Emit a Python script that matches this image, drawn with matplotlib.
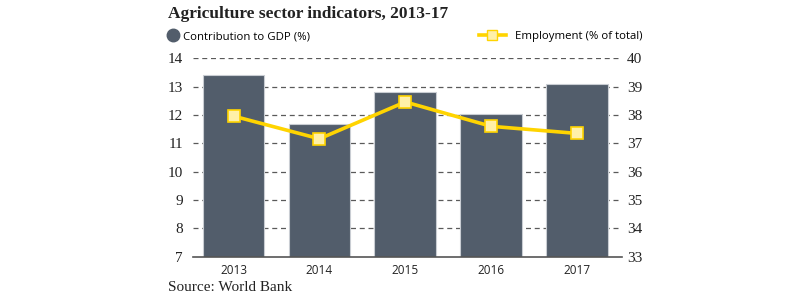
import matplotlib
matplotlib.use("Agg")
import matplotlib.pyplot as plt
from matplotlib.lines import Line2D

years = ["2013", "2014", "2015", "2016", "2017"]
gdp_share = [13.4, 11.67, 12.8, 12.02, 13.08]
employment = [37.96, 37.16, 38.46, 37.6, 37.35]

bar_color = "#525d6b"
line_color = "#ffd400"
marker_face = "#fff0a8"
serif = "Liberation Serif"
sans = "Open Sans"

fig = plt.figure(figsize=(8, 3), dpi=100)
ax = fig.add_axes([0.241, 0.1443, 0.536, 0.6614])
ax2 = ax.twinx()

x = range(len(years))
ax.bar(x, gdp_share, width=0.72, color=bar_color, edgecolor="#c9cdd3",
       linewidth=0.8, zorder=2)
ax.set_ylim(7, 14)
ax.set_xlim(-0.475, 4.52)
ax.set_yticks(range(7, 15))
ax.set_xticks(list(x))
ax.set_xticklabels(years, fontsize=8.5, fontfamily=sans, color="#222222")
for v in range(8, 15):
    ax.axhline(v, color="#5a5a5a", linestyle=(0, (4, 3)), linewidth=0.9, zorder=1)

ax2.plot(x, employment, color=line_color, linewidth=2.6, marker="s",
         markersize=8, markerfacecolor=marker_face, markeredgecolor=line_color,
         markeredgewidth=1.2, zorder=3)
ax2.set_ylim(33, 40)
ax2.set_yticks(range(33, 41))

for a in (ax, ax2):
    for s in a.spines.values():
        s.set_visible(False)
    a.tick_params(length=0)
ax.spines["bottom"].set_visible(True)
ax.spines["bottom"].set_color("#555555")
ax.spines["bottom"].set_linewidth(1.2)

ax.tick_params(axis="y", pad=7)
ax2.tick_params(axis="y", pad=4)
for lab in ax.get_yticklabels() + ax2.get_yticklabels():
    lab.set_fontfamily(serif)
    lab.set_fontsize(11)
    lab.set_color("#222222")
ax.tick_params(axis="x", pad=5)

fig.text(0.21, 0.955, "Agriculture sector indicators, 2013-17", fontfamily=serif,
         fontweight="bold", fontsize=12.5, color="#222222", va="center")
fig.text(0.21, 0.043, "Source: World Bank", fontfamily=serif, fontsize=11,
         color="#222222", va="center")

fig.legend(handles=[Line2D([], [], marker="o", linestyle="none", markersize=9,
                           color=bar_color)],
           labels=["Contribution to GDP (%)"], loc="center left",
           bbox_to_anchor=(0.196, 0.878), frameon=False,
           prop={"family": sans, "size": 8.2},
           handletextpad=0.4, handlelength=1.0)
fig.legend(handles=[Line2D([], [], color=line_color, linewidth=2.6, marker="s",
                           markersize=7, markerfacecolor=marker_face,
                           markeredgecolor=line_color)],
           labels=["Employment (% of total)"], loc="center right",
           bbox_to_anchor=(0.816, 0.878), frameon=False,
           prop={"family": sans, "size": 8.2},
           handletextpad=0.8, handlelength=2.4)

fig.savefig("out.png", dpi=100)
